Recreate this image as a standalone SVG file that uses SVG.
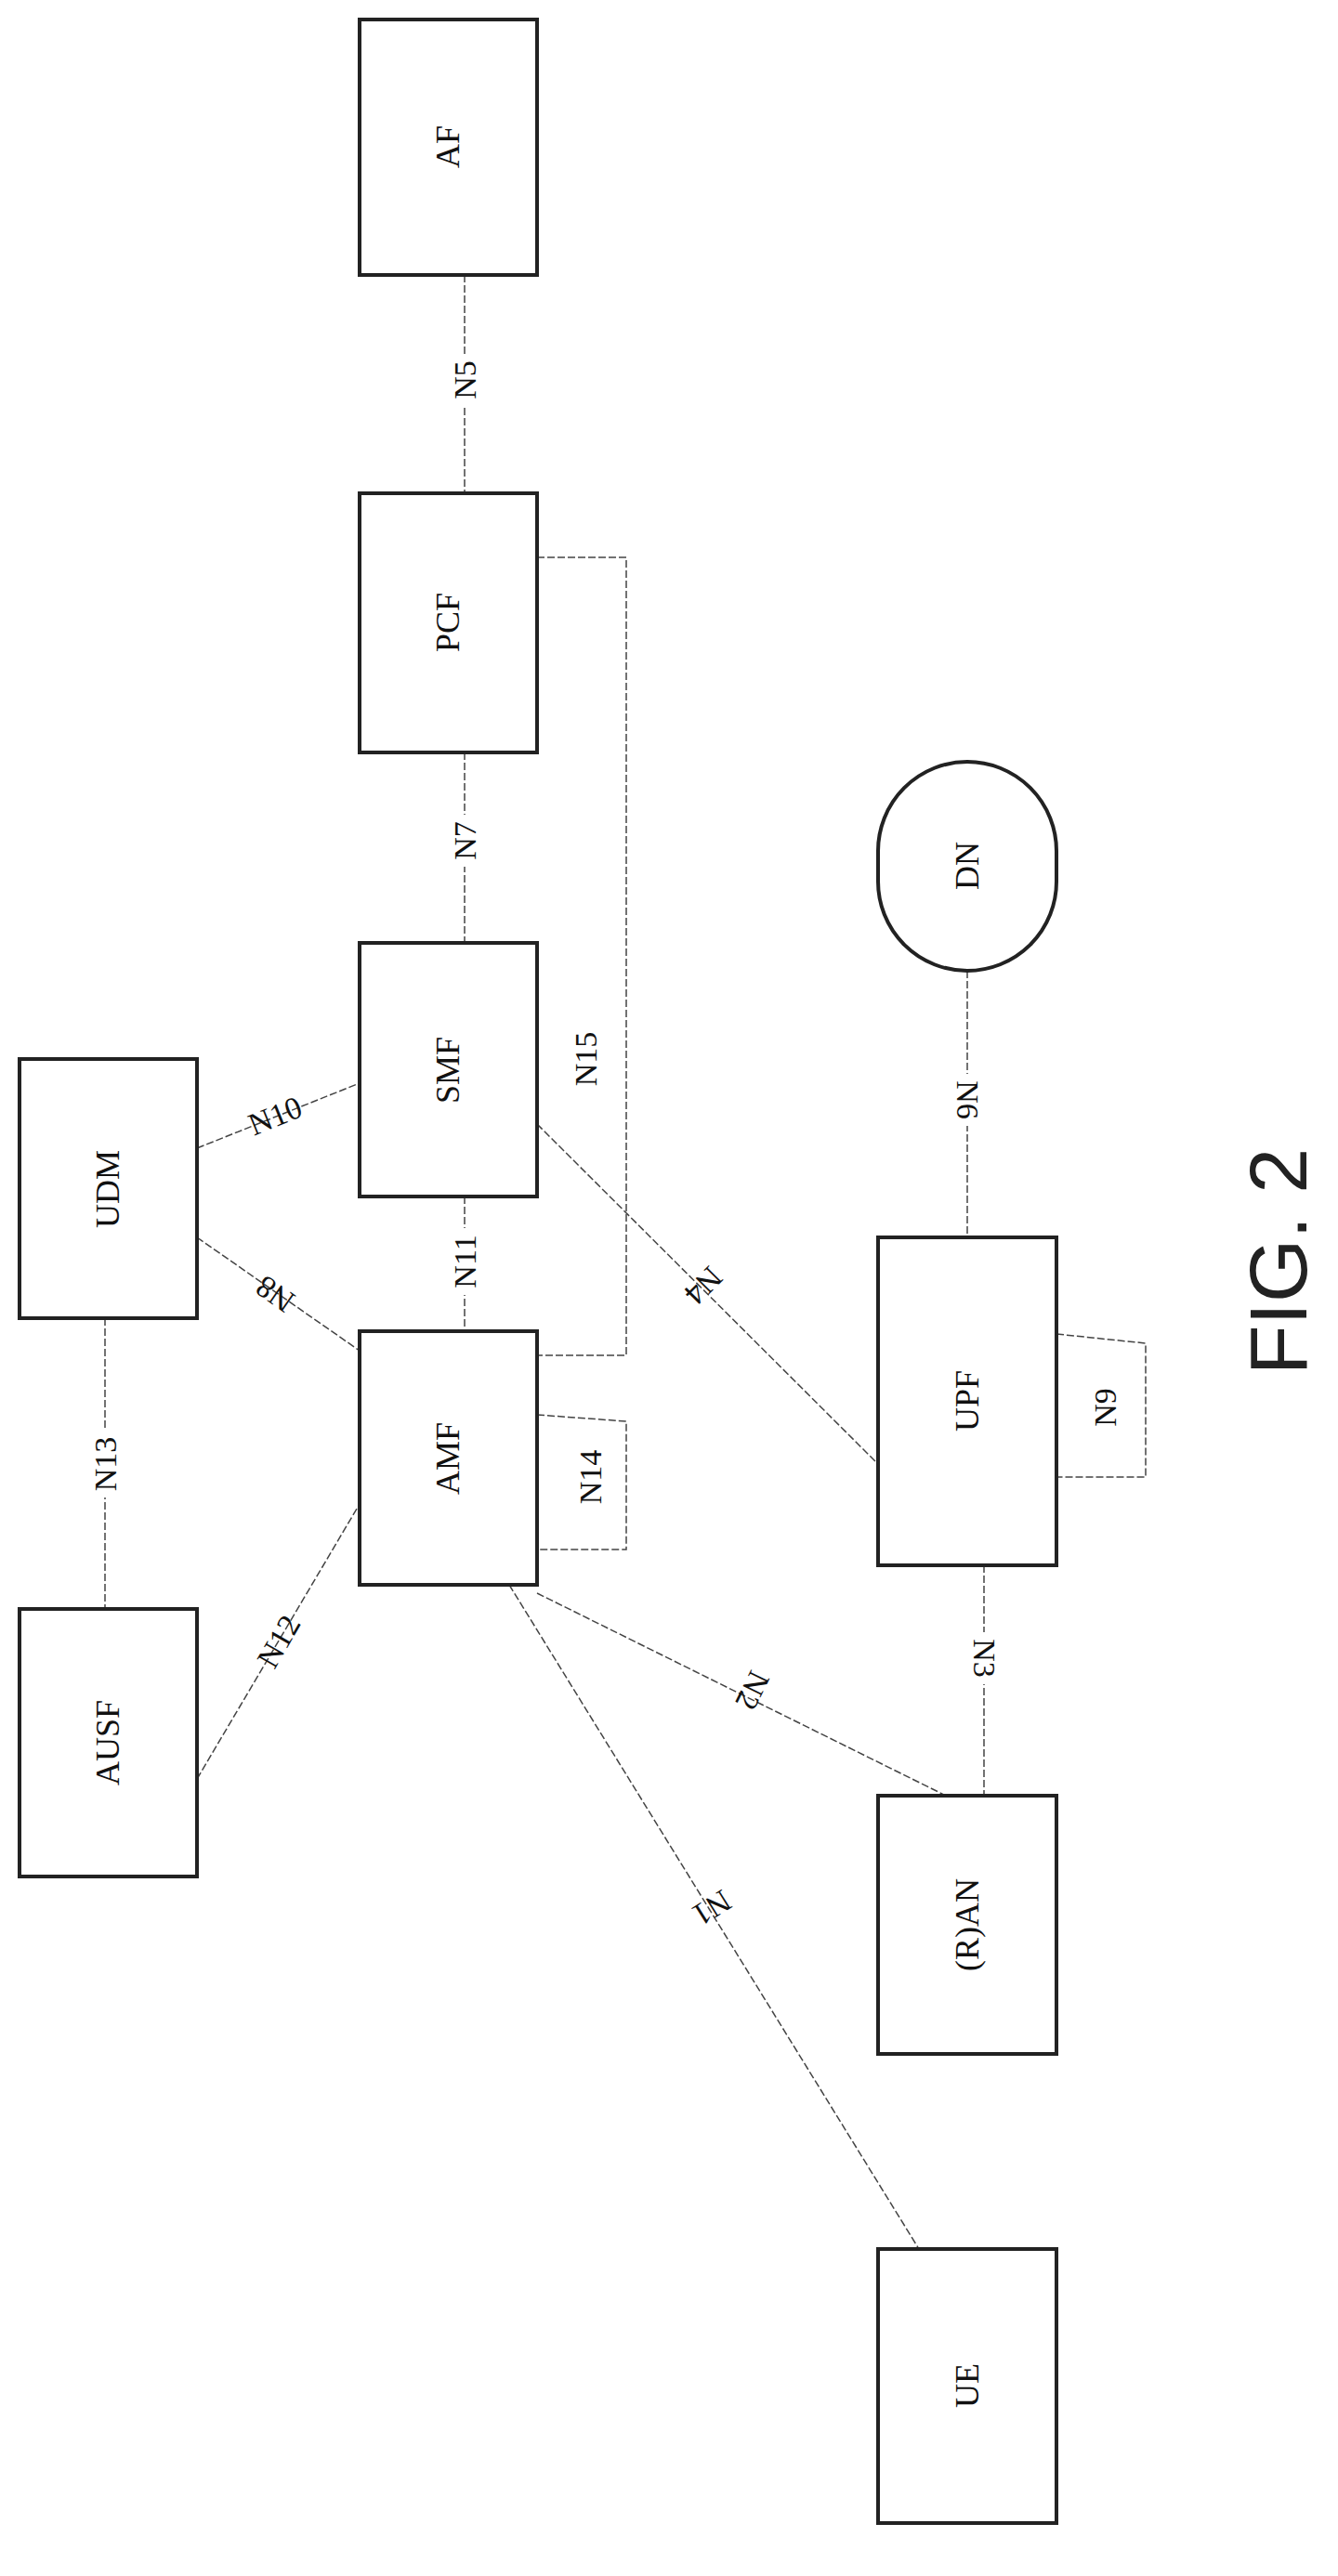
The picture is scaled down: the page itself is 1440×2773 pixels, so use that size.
<svg xmlns="http://www.w3.org/2000/svg" width="1440" height="2773" viewBox="0 0 1440 2773">
<style>
.b{fill:#fff;stroke:#222;stroke-width:4}
.l{fill:none;stroke:#444;stroke-width:1.5;stroke-dasharray:8 3}
.t{font-family:"Liberation Serif",serif;font-size:36px;fill:#111;text-anchor:middle;dominant-baseline:central}
.lb{font-family:"Liberation Serif",serif;font-size:34px;fill:#111;text-anchor:middle;dominant-baseline:central}
.bg{fill:#fff}
</style>
<rect width="1440" height="2773" fill="#fff"/>
<g id="connectors">
<line class="l" x1="500" y1="296" x2="500" y2="531"/>
<line class="l" x1="500" y1="810" x2="500" y2="1015"/>
<line class="l" x1="500" y1="1288" x2="500" y2="1433"/>
<line class="l" x1="113" y1="1419" x2="113" y2="1732"/>
<line class="l" x1="212" y1="1236" x2="387" y2="1166"/>
<line class="l" x1="212" y1="1332" x2="387" y2="1454"/>
<line class="l" x1="212" y1="1915" x2="387" y2="1619"/>
<polyline class="l" points="578,600 674,600 674,1459 578,1459"/>
<polyline class="l" points="578,1523 674,1530 674,1668 578,1668"/>
<line class="l" x1="578" y1="1210" x2="945" y2="1576"/>
<line class="l" x1="1041" y1="1045" x2="1041" y2="1332"/>
<polyline class="l" points="1137,1436 1233,1446 1233,1590 1137,1590"/>
<line class="l" x1="1059" y1="1685" x2="1059" y2="1933"/>
<line class="l" x1="578" y1="1715" x2="1018" y2="1933"/>
<line class="l" x1="548" y1="1706" x2="989" y2="2421"/>
</g>
<g id="labels">
<rect class="bg" x="485" y="381" width="30" height="56"/><text class="lb" transform="translate(500,409) rotate(-90)">N5</text>
<rect class="bg" x="485" y="877" width="30" height="56"/><text class="lb" transform="translate(500,905) rotate(-90)">N7</text>
<rect class="bg" x="485" y="1322" width="30" height="72"/><text class="lb" transform="translate(500,1358) rotate(-90)">N11</text>
<rect class="bg" x="98" y="1540" width="30" height="72"/><text class="lb" transform="translate(113,1576) rotate(-90)">N13</text>
<text class="lb" transform="translate(296,1201) rotate(-22)">N10</text>
<text class="lb" transform="translate(296,1393) rotate(-145)">N8</text>
<text class="lb" transform="translate(300,1767) rotate(-60)">N12</text>
<text class="lb" transform="translate(630,1140) rotate(-90)">N15</text>
<text class="lb" transform="translate(635,1590) rotate(-90)">N14</text>
<text class="lb" transform="translate(757,1384) rotate(135)">N4</text>
<rect class="bg" x="1026" y="1156" width="30" height="56"/><text class="lb" transform="translate(1041,1184) rotate(90)">N6</text>
<text class="lb" transform="translate(1189,1515) rotate(-90)">N9</text>
<rect class="bg" x="1044" y="1757" width="30" height="56"/><text class="lb" transform="translate(1059,1785) rotate(90)">N3</text>
<text class="lb" transform="translate(810,1820) rotate(116)">N2</text>
<text class="lb" transform="translate(766,2054) rotate(148)">N1</text>
</g>
<g id="AF"><rect class="b" x="387" y="21" width="191" height="275"/><text class="t" transform="translate(482,158) rotate(-90)">AF</text></g>
<g id="PCF"><rect class="b" x="387" y="531" width="191" height="279"/><text class="t" transform="translate(482,670) rotate(-90)">PCF</text></g>
<g id="SMF"><rect class="b" x="387" y="1015" width="191" height="273"/><text class="t" transform="translate(482,1152) rotate(-90)">SMF</text></g>
<g id="AMF"><rect class="b" x="387" y="1433" width="191" height="273"/><text class="t" transform="translate(482,1570) rotate(-90)">AMF</text></g>
<g id="AUSF"><rect class="b" x="21" y="1732" width="191" height="288"/><text class="t" transform="translate(116,1876) rotate(-90)">AUSF</text></g>
<g id="UDM"><rect class="b" x="21" y="1140" width="191" height="279"/><text class="t" transform="translate(116,1280) rotate(-90)">UDM</text></g>
<g id="UPF"><rect class="b" x="945" y="1332" width="192" height="353"/><text class="t" transform="translate(1041,1508) rotate(-90)">UPF</text></g>
<g id="RAN"><rect class="b" x="945" y="1933" width="192" height="278"/><text class="t" transform="translate(1041,2072) rotate(-90)">(R)AN</text></g>
<g id="UE"><rect class="b" x="945" y="2421" width="192" height="295"/><text class="t" transform="translate(1041,2568) rotate(-90)">UE</text></g>
<g id="DN"><rect class="b" x="945" y="820" width="192" height="225" rx="96" ry="96"/><text class="t" transform="translate(1041,932) rotate(-90)">DN</text></g>
<text transform="translate(1375,1358) rotate(-90)" font-family="Liberation Sans,sans-serif" font-size="88" text-anchor="middle" dominant-baseline="central" fill="#222">FIG. 2</text>
</svg>
